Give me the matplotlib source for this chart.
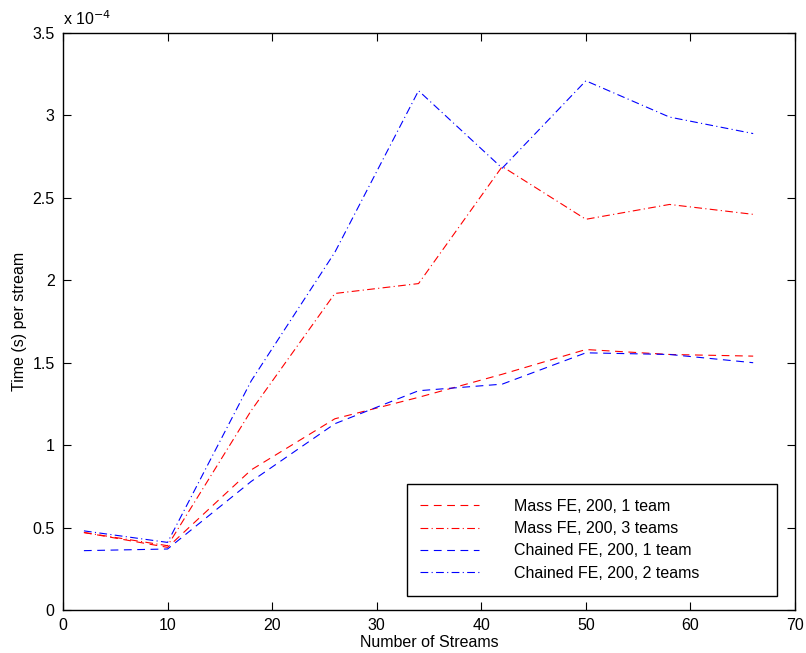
import numpy as np
import matplotlib
matplotlib.use("Agg")
import matplotlib.pyplot as plt
from matplotlib.patches import Rectangle
from matplotlib.ticker import FuncFormatter

plt.rcParams["font.family"] = ["Liberation Sans", "DejaVu Sans"]

# Valores (tempo em unidades de 1e-4 s)
streams = [2, 10, 18, 26, 34, 42, 50, 58, 66]
mass_1team = [0.47, 0.38, 0.85, 1.16, 1.29, 1.43, 1.58, 1.55, 1.54]
mass_3teams = [0.47, 0.39, 1.21, 1.92, 1.98, 2.69, 2.37, 2.46, 2.40]
chained_1team = [0.36, 0.37, 0.78, 1.13, 1.33, 1.37, 1.56, 1.55, 1.50]
chained_2teams = [0.48, 0.41, 1.39, 2.17, 3.15, 2.68, 3.21, 2.99, 2.89]

labels = ["Mass FE, 200, 1 team", "Mass FE, 200, 3 teams",
          "Chained FE, 200, 1 team", "Chained FE, 200, 2 teams"]

fs = 11.5
W, H = 806, 653

fig = plt.figure(figsize=(W / 100, H / 100), dpi=100)
ax = fig.add_axes([63 / W, 43 / H, 732 / W, 577 / H])

dash = (0, (7, 5))
dashdot = (0, (7, 3, 1, 3))
ax.plot(streams, mass_1team, color="red", linestyle=dash, lw=0.8, label=labels[0])
ax.plot(streams, mass_3teams, color="red", linestyle=dashdot, lw=0.8, label=labels[1])
ax.plot(streams, chained_1team, color="blue", linestyle=dash, lw=0.8, label=labels[2])
ax.plot(streams, chained_2teams, color="blue", linestyle=dashdot, lw=0.8, label=labels[3])

ax.set_xlim(0, 70)
ax.set_ylim(0, 3.5)
ax.set_xticks(np.arange(0, 71, 10))
ax.set_yticks(np.arange(0, 3.51, 0.5))
ax.yaxis.set_major_formatter(FuncFormatter(lambda v, p: f"{v:g}"))

ax.tick_params(direction="in", length=6, width=0.8, top=True, right=True,
               labelsize=fs, pad=6)
for s in ax.spines.values():
    s.set_linewidth(1.0)

ax.set_xlabel("Number of Streams", fontsize=fs, labelpad=1)
ax.set_ylabel("Time (s) per stream", fontsize=fs, labelpad=4)
ax.text(0.0, 1.008, "x 10$^{-4}$", transform=ax.transAxes, fontsize=fs,
        ha="left", va="bottom")

# caixa da legenda desenhada à parte (estilo MATLAB, com folga à direita)
box = Rectangle((407 / W, (H - 596) / H), 370 / W, 112 / H,
                transform=fig.transFigure, facecolor="white",
                edgecolor="black", lw=1.0, zorder=4, clip_on=False)
ax.add_patch(box)

leg = ax.legend(loc="upper left", bbox_to_anchor=(420 / W, (H - 499) / H),
                bbox_transform=fig.transFigure, fontsize=fs, frameon=False,
                handlelength=3.7, handletextpad=2.2, borderpad=0,
                labelspacing=0.45, borderaxespad=0)
leg.set_zorder(6)

plt.savefig("out.png", dpi=100)
plt.close()
